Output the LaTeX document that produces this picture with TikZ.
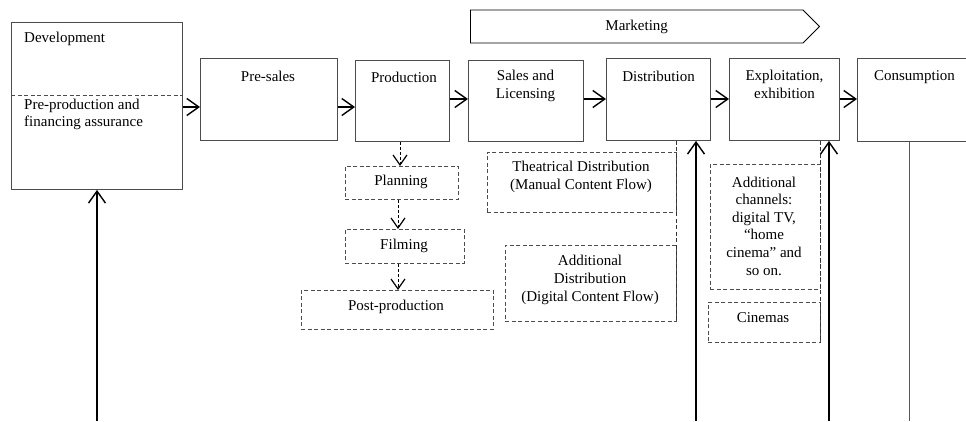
\documentclass[tikz,border=0pt]{standalone}
\usepackage{fontspec}
\setmainfont{Liberation Serif}
\usetikzlibrary{arrows.meta,shapes.symbols}
\begin{document}
\begin{tikzpicture}[x=1pt,y=-1pt,
  box/.style={draw=black!70, line width=0.9pt, rectangle, anchor=north west, inner sep=0pt},
  dbox/.style={box, dash pattern=on 4pt off 2.5pt},
  dline/.style={draw=black!80, line width=0.9pt, dash pattern=on 4pt off 2.5pt},
  txt/.style={inner sep=0pt, align=center, font=\fontsize{15}{17.6}\selectfont},
  arr/.style={line width=1.2pt, -{Straight Barb[length=12pt,width=17pt,line width=1.4pt]}},
  darr/.style={line width=0.8pt, dash pattern=on 3pt off 2pt, -{Straight Barb[length=10pt,width=14pt,line width=1.2pt]}}]
\useasboundingbox (0,0) rectangle (966,421);
\node[box, minimum width=171pt, minimum height=167pt] (dev) at (11,22){};
\node[box, minimum width=137pt, minimum height=82pt] (presales) at (200,58){};
\node[box, minimum width=94pt, minimum height=81pt] (prod) at (355,60){};
\node[box, minimum width=115pt, minimum height=81pt] (sales) at (468,60){};
\node[box, minimum width=104pt, minimum height=82pt] (dist) at (606,58){};
\node[box, minimum width=110pt, minimum height=82pt] (expl) at (729,58){};
\node[box, minimum width=123pt, minimum height=83pt] (cons) at (857,58){};
\node[signal, signal to=east, draw, line width=0.9pt, minimum width=349pt, minimum height=33pt, txt, anchor=west] (mkt) at (470,26.5){Marketing};
\draw[dline, draw=black!70] (dev.west |- 0,95) -- (dev.east |- 0,95);
\node[txt, anchor=west] (dev-t) at (24,39){Development};
\node[txt, anchor=west, align=left] (preprod-t) at (24,114.5){Pre-production and\\financing assurance};
\node[txt] (presales-t) at (268,76){Pre-sales};
\node[txt] (prod-t) at (404,77){Production};
\node[txt] (sales-t) at (525.5,86){Sales and\\Licensing};
\node[txt] (dist-t) at (658.5,76){Distribution};
\node[txt] (expl-t) at (784.5,84.5){Exploitation,\\exhibition};
\node[txt] (cons-t) at (914.5,77){Consumption};
\draw[arr] (dev.east |- 0,107) -- (presales.west |- 0,107);
\draw[arr] (presales.east |- 0,107) -- (prod.west |- 0,107);
\draw[arr] (prod.east |- 0,99) -- (sales.west |- 0,99);
\draw[arr] (sales.east |- 0,99) -- (dist.west |- 0,99);
\draw[arr] (dist.east |- 0,99) -- (expl.west |- 0,99);
\draw[arr] (expl.east |- 0,99) -- (cons.west |- 0,99);
\node[dbox, minimum width=113pt, minimum height=33pt] (plan) at (345,166){};
\node[dbox, minimum width=119pt, minimum height=34pt] (film) at (345,229){};
\node[dbox, minimum width=192pt, minimum height=39pt] (post) at (301,290){};
\node[txt] (plan-t) at (401,182){Planning};
\node[txt] (film-t) at (404,246){Filming};
\node[txt] (post-t) at (396,307){Post-production};
\draw[darr] (prod.south -| 400,0) -- (plan.north -| 400,0);
\draw[darr] (plan.south -| 398,0) -- (film.north -| 398,0);
\draw[darr] (film.south -| 398,0) -- (post.north -| 398,0);
\node[dbox, minimum width=189pt, minimum height=60pt] (theat) at (487,152){};
\node[dbox, minimum width=171pt, minimum height=76pt] (adddist) at (505,245){};
\node[txt] (theat-t) at (581,177){Theatrical Distribution\\(Manual Content Flow)};
\node[txt] (adddist-t) at (590,280){Additional\\Distribution\\(Digital Content Flow)};
\draw[dline] (dist.south -| adddist.east) -- (adddist.south east);
\node[dbox, minimum width=110pt, minimum height=125pt] (addch) at (710,164){};
\node[dbox, minimum width=112pt, minimum height=40pt] (cin) at (708,302){};
\node[txt] (addch-t) at (764,226){Additional\\channels:\\digital TV,\\“home\\cinema” and\\so on.};
\node[txt] (cin-t) at (763,318){Cinemas};
\draw[dline] (expl.south -| cin.east) -- (cin.south east);
\coordinate (in1) at (97,421);
\coordinate (in2) at (696,421);
\coordinate (in3) at (829,421);
\coordinate (out1) at (909,421);
\draw[arr] (in1) -- (in1 |- dev.south);
\draw[arr] (in2) -- (in2 |- dist.south);
\draw[arr] (in3) -- (in3 |- expl.south);
\draw[line width=1pt, black!65] (cons.south -| out1) -- (out1);
\end{tikzpicture}
\end{document}
